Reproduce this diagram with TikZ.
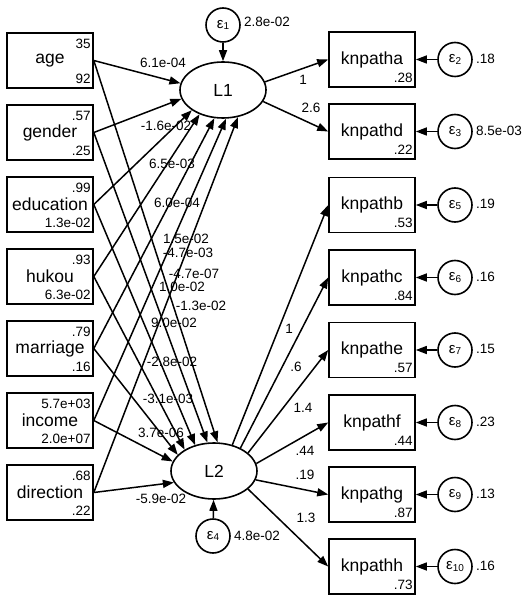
\documentclass[tikz,border=0pt]{standalone}
\usepackage{fontspec}
\setmainfont{Liberation Sans}
\usetikzlibrary{arrows.meta,shapes.geometric,calc}
\newcommand{\epsn}[1]{{\fontsize{15}{15}\selectfont ε}\raisebox{-0.3ex}{\fontsize{10}{10}\selectfont #1}}
\begin{document}
\begin{tikzpicture}[x=1pt,y=-1pt,
  obs/.style={draw, line width=1.6pt, minimum width=86pt, minimum height=55pt, inner sep=0pt, font=\fontsize{17.5}{18}\selectfont},
  lat/.style={draw, ellipse, line width=1.6pt, minimum width=86pt, minimum height=56pt, inner sep=0pt, font=\fontsize{17.5}{18}\selectfont},
  err/.style={draw, circle, line width=1.6pt, minimum size=34pt, inner sep=0pt},
  num/.style={inner sep=0pt, font=\fontsize{13.5}{14}\selectfont},
  lab/.style={inner sep=0pt, font=\fontsize{13.5}{14}\selectfont},
  arr/.style={line width=1.5pt, -{Triangle[length=11pt,width=8pt]}},
]
\fill[white] (0,0) rectangle (529,601);
\useasboundingbox (0,0) rectangle (529,601);

% left observed boxes
\node[obs] (age) at (50,60.5) {age};
\node[obs] (gender) at (50,132.5) {gender};
\node[obs] (edu) at (50,204.5) {education};
\node[obs] (hukou) at (50,276.5) {hukou};
\node[obs] (marr) at (50,348.5) {marriage};
\node[obs] (inc) at (50,420.5) {income};
\node[obs] (dir) at (50,492.5) {direction};

\foreach \n/\t/\b in {age/35/92, gender/.57/.25, edu/.99/1.3e-02, hukou/.93/6.3e-02, marr/.79/.16, inc/5.7e+03/2.0e+07, dir/.68/.22}{
  \node[num, anchor=east] (\n t) at ($(\n.north east)+(-3,12)$) {\t};
  \node[num, anchor=east] (\n b) at ($(\n.south east)+(-3,-10)$) {\b};
}

% latent variables
\node[lat] (L1) at (223,90) {L1};
\node[lat] (L2) at (214,471) {L2};
\node[err] (e1) at (223,25) {\epsn{1}};
\node[err] (e4) at (213,536) {\epsn{4}};
\node[num, anchor=west] (e1l) at ($(e1.east)+(3,-3)$) {2.8e-02};
\node[num, anchor=west] (e4l) at ($(e4.east)+(3,0)$) {4.8e-02};
\draw[arr] (e1) -- (L1);
\draw[arr] (e4) -- (L2);

% right observed boxes
\node[obs] (ka) at (372,59.5) {knpatha};
\node[obs] (kd) at (372,131.5) {knpathd};
\node[obs] (kb) at (372,205) {knpathb};
\node[obs] (kc) at (372,277.5) {knpathc};
\node[obs] (ke) at (372,350) {knpathe};
\node[obs] (kf) at (372,422.5) {knpathf};
\node[obs] (kg) at (372,494.5) {knpathg};
\node[obs] (kh) at (372,566.5) {knpathh};

\foreach \n/\b/\e/\v in {ka/.28/2/.18, kd/.22/3/8.5e-03, kb/.53/5/.19, kc/.84/6/.16, ke/.57/7/.15, kf/.44/8/.23, kg/.87/9/.13, kh/.73/10/.16}{
  \node[num, anchor=east] (\n b) at ($(\n.south east)+(-3,-10)$) {\b};
  \node[err] (\n e) at ($(\n.center)+(83,0)$) {\epsn{\e}};
  \node[num, anchor=west] (\n v) at ($(\n e.east)+(3,-1)$) {\v};
  \draw[arr] (\n e) -- (\n.east);
}

% paths into L1
\draw[arr] (age.east) -- (L1.171);
\draw[arr] (gender.east) -- (L1.192);
\draw[arr] (edu.east) -- (L1.213);
\draw[arr] (hukou.east) -- (L1.226);
\draw[arr] (marr.east) -- (L1.253);
\draw[arr] (inc.east) -- (L1.276);
\draw[arr] (dir.east) -- (L1.299);
% paths into L2
\draw[arr] (age.east) -- (L2.83);
\draw[arr] (gender.east) -- (L2.103);
\draw[arr] (edu.east) -- (L2.126);
\draw[arr] (hukou.east) -- (L2.144);
\draw[arr] (marr.east) -- (L2.156);
\draw[arr] (inc.east) -- (L2.167);
\draw[arr] (dir.east) -- (L2.196);

% loadings
\draw[arr] (L1.11) -- (ka.west);
\draw[arr] (L1.-16) -- (kd.west);
\draw[arr] (L2.55) -- (kb.west);
\draw[arr] (L2.41) -- (kc.west);
\draw[arr] (L2.28) -- (ke.west);
\draw[arr] (L2.10) -- (kf.west);
\draw[arr] (L2.-12) -- (kg.west);
\draw[arr] (L2.-28) -- (kh.west);

% path labels
\node[lab] (p1) at (163,63) {6.1e-04};
\node[lab] (p2) at (166,126) {-1.6e-02};
\node[lab] (p3) at (172,164) {6.5e-03};
\node[lab] (p4) at (177,203) {6.0e-04};
\node[lab] (p5) at (186,239) {1.5e-02};
\node[lab] (p6) at (188,253) {-4.7e-03};
\node[lab] (p7) at (194,274) {-4.7e-07};
\node[lab] (p8) at (182,287) {1.0e-02};
\node[lab] (p9) at (201,306) {-1.3e-02};
\node[lab] (p10) at (174,323) {9.0e-02};
\node[lab] (p11) at (172,362) {-2.8e-02};
\node[lab] (p12) at (168,399) {-3.1e-03};
\node[lab] (p13) at (161,433) {3.7e-06};
\node[lab] (p14) at (161,499) {-5.9e-02};

\node[lab] (q1) at (303,80) {1};
\node[lab] (q2) at (311,108) {2.6};
\node[lab] (q3) at (289,329) {1};
\node[lab] (q4) at (296,367) {.6};
\node[lab] (q5) at (303,408) {1.4};
\node[lab] (q6) at (305,451) {.44};
\node[lab] (q7) at (305,475) {.19};
\node[lab] (q8) at (306,518) {1.3};
\end{tikzpicture}
\end{document}
